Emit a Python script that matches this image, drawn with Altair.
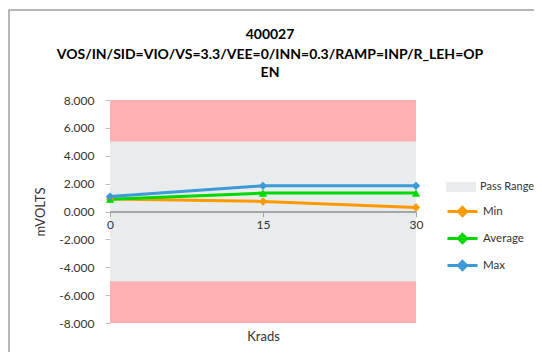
import altair as alt
import pandas as pd

# ---- data ----
krads = [0, 15, 30]
series_names = ["Min", "Average", "Max"]
min_vals = [0.90, 0.72, 0.29]
avg_vals = [0.88, 1.32, 1.32]
max_vals = [1.07, 1.84, 1.84]
marker_shapes = ["diamond", "triangle-up", "diamond"]

band_lo = [5, -5, -8]
band_hi = [8, 5, -5]
band_kind = ["Fail", "Pass Range", "Fail"]

y_ticks = [-8, -6, -4, -2, 0, 2, 4, 6, 8]
x_ticks = [0, 15, 30]

title_lines = ["400027", "VOS/IN/SID=VIO/VS=3.3/VEE=0/INN=0.3/RAMP=INP/R_LEH=OP", "EN"]
title_y = [-65, -45, -27]

rows = []
for name, vals in zip(series_names, [min_vals, avg_vals, max_vals]):
    for k, v in zip(krads, vals):
        rows.append({"krads": k, "value": v, "series": name})
lines_df = pd.DataFrame(rows)
bands_df = pd.DataFrame({"lo": band_lo, "hi": band_hi, "kind": band_kind})
title_df = pd.DataFrame({"text": title_lines, "ty": title_y})

FONT = "Lato"
TXT = "#333333"
W, H = 306, 223

colors = ["#FF9900", "#00D800", "#3C9AD6"]
line_diamond = "M-1,0H1M0,-0.27L0.27,0L0,0.27L-0.27,0Z"
rect_path = "M-1,-0.33H1V0.33H-1Z"

x_scale = alt.Scale(domain=[0, 30], nice=False)
y_scale = alt.Scale(domain=[-8, 8], nice=False)

y_axis = alt.Axis(values=y_ticks, title="mVOLTS", grid=False, labelOverlap=False,
                  labelExpr="(datum.value < 0 ? '-' : '') + format(abs(datum.value), '.3f')",
                  labelFont=FONT, labelFontSize=12, labelColor=TXT,
                  labelPadding=11, tickSize=5, tickColor="#BFBFBF",
                  domainColor="#BFBFBF", titleFont=FONT, titleFontSize=13,
                  titleFontWeight="normal", titleColor=TXT,
                  titleX=-70, titleY=H / 2, titleAngle=270,
                  titleAlign="center", titleBaseline="middle")
x_axis = alt.Axis(values=x_ticks, title="Krads", grid=False, offset=-H / 2, zindex=1,
                  labelFlush=False,
                  labelFont=FONT, labelFontSize=12, labelColor=TXT,
                  labelPadding=3, tickSize=5, tickColor="#A6A6A6",
                  domainColor="#A6A6A6", domainWidth=2,
                  titleFont=FONT, titleFontSize=13, titleFontWeight="normal",
                  titleColor=TXT, titleY=124.5, titleBaseline="middle")

border = alt.Chart(pd.DataFrame({"a": [0]})).mark_rect(
    fill="transparent", stroke="#A0A0A0", strokeWidth=1.5
).encode(x=alt.value(-101), x2=alt.value(700), y=alt.value(-90), y2=alt.value(500))

title = alt.Chart(title_df).mark_text(
    font=FONT, fontSize=14, fontWeight="bold", color="#000000", align="center", baseline="middle"
).encode(x=alt.value(160), y=alt.Y("ty:Q", scale=None, axis=None), text="text:N")

bands = alt.Chart(bands_df).mark_rect().encode(
    x=alt.value(0), x2=alt.value(W),
    y=alt.Y("lo:Q", scale=y_scale, axis=y_axis),
    y2="hi:Q",
    fill=alt.Fill("kind:N",
                  scale=alt.Scale(domain=["Pass Range", "Fail"], range=["#E8ECEC", "#FFB0B0"]),
                  legend=alt.Legend(values=["Pass Range"], title=None, orient="none",
                                    legendX=336, legendY=72, symbolType=rect_path,
                                    symbolSize=900, symbolStrokeWidth=0, padding=0,
                                    labelFont=FONT, labelFontSize=11, labelColor=TXT,
                                    labelOffset=4)),
)

lines = alt.Chart(lines_df).mark_line(strokeWidth=3).encode(
    x=alt.X("krads:Q", scale=x_scale, axis=x_axis),
    y=alt.Y("value:Q", scale=y_scale, axis=y_axis),
    color=alt.Color("series:N",
                    scale=alt.Scale(domain=series_names, range=colors),
                    sort=series_names,
                    legend=alt.Legend(title=None, orient="none", legendX=336, legendY=95,
                                      symbolType=line_diamond, symbolSize=900,
                                      symbolStrokeWidth=3, padding=0, rowPadding=-1,
                                      labelFont=FONT, labelFontSize=11.5, labelColor=TXT,
                                      labelOffset=4)),
)

point_layers = []
for name, shp, col in zip(series_names, marker_shapes, colors):
    point_layers.append(
        alt.Chart(lines_df[lines_df["series"] == name]).mark_point(
            filled=True, size=70, opacity=1, shape=shp, fill=col, strokeWidth=0
        ).encode(
            x=alt.X("krads:Q", scale=x_scale, axis=x_axis),
            y=alt.Y("value:Q", scale=y_scale, axis=y_axis),
        )
    )

chart = alt.layer(border, title, bands, lines, *point_layers).properties(
    width=W, height=H,
    autosize=alt.AutoSizeParams(type="none"),
    padding={"left": 102, "top": 92, "right": 118, "bottom": 29},
).configure_view(stroke=None)

chart.save("out.html", embed_options={"renderer": "svg", "actions": False})
